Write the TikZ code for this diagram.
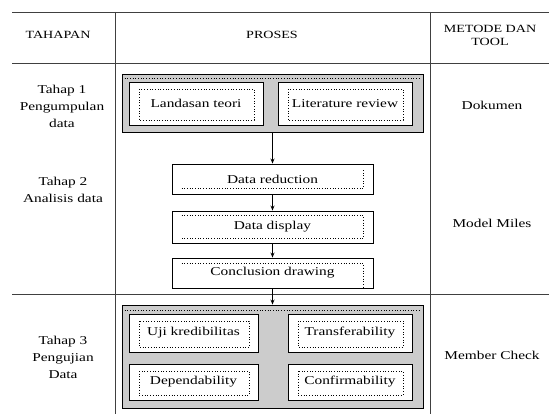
\documentclass[tikz,border=0pt]{standalone}
\usepackage{fontspec}
\setmainfont{Liberation Serif}[FakeStretch=1.28]
\usetikzlibrary{arrows.meta}

\begin{document}
\begin{tikzpicture}[x=1pt,y=-1pt,
  rule/.style={line width=0.9pt,draw=black!75},
  headtext/.style={align=center,font=\fontsize{11}{13}\selectfont},
  cell/.style={align=center,font=\fontsize{12}{17}\selectfont},
  greybox/.style={draw,line width=0.9pt,fill=black!20,minimum width=301pt},
  itembox/.style={draw,line width=0.9pt,fill=white,font=\fontsize{12}{14}\selectfont,
    path picture={\draw[dotted,line width=0.7pt]
      ([shift={(10pt,-7pt)}]path picture bounding box.north west) rectangle
      ([shift={(-9pt,5pt)}]path picture bounding box.south east);}},
  stepbox/.style={draw,line width=0.9pt,fill=white,minimum width=201pt,font=\fontsize{12}{14}\selectfont},
  dots/.style={dotted,line width=0.7pt},
  flow/.style={-{Stealth[length=5pt,width=4pt]},line width=0.8pt}]
\useasboundingbox (0,0) rectangle (549,414);

% table
\draw[rule] (12,12) -- (549,12);
\draw[rule] (12,63) -- (549,63);
\draw[rule] (12,294) -- (549,294);
\draw[rule] (115,12) -- (115,414);
\draw[rule] (430,12) -- (430,414);

\node[headtext] (tahapan) at (58,35) {TAHAPAN};
\node[headtext] (proses) at (272,35) {PROSES};
\node[headtext] (metode) at (490,35) {METODE DAN\\TOOL};

\node[cell] (tahap1) at (62,106) {Tahap 1\\Pengumpulan\\data};
\node[cell] (tahap2) at (63,190) {Tahap 2\\Analisis data};
\node[cell] (tahap3) at (63,357) {Tahap 3\\Pengujian\\Data};
\node[cell] (dokumen) at (492,105) {Dokumen};
\node[cell] (miles) at (492,223) {Model Miles};
\node[cell] (member) at (492,355) {Member Check};

% tahap 1
\node[greybox,minimum height=58pt] (kumpul) at (272.5,103) {};
\draw[dots] ([xshift=3pt,yshift=-5pt]kumpul.north west) -- ([xshift=-3pt,yshift=-5pt]kumpul.north east);
\node[itembox,minimum width=134pt,minimum height=43pt] (landasan) at (196,103.5) {Landasan teori};
\node[itembox,minimum width=134pt,minimum height=43pt] (literatur) at (345,103.5) {Literature review};

% tahap 2
\node[stepbox,minimum height=30pt] (reduksi) at (272.5,179) {Data reduction};
\node[stepbox,minimum height=32pt] (display) at (272.5,227) {Data display};
\node[stepbox,minimum height=30pt] (conclusion) at (272.5,273) {Conclusion drawing};
\draw[dots] ([xshift=10pt,yshift=6pt]reduksi.south west) -| ([xshift=-10pt,yshift=-6pt]reduksi.north east);
\draw[dots] ([xshift=10pt,yshift=-5pt]display.north west) -| ([xshift=-10pt,yshift=5pt]display.south east)
  -- ([xshift=10pt,yshift=5pt]display.south west);
\draw[dots] ([xshift=10pt,yshift=-6pt]conclusion.north west) -| ([xshift=-10pt]conclusion.south east);

% tahap 3
\node[greybox,minimum height=103pt] (uji) at (272.5,356.5) {};
\draw[dots] ([xshift=3pt,yshift=-6pt]uji.north west) -- ([xshift=-3pt,yshift=-6pt]uji.north east);
\node[itembox,minimum width=129pt,minimum height=38pt] (kredibilitas) at (193.5,333) {Uji kredibilitas};
\node[itembox,minimum width=124pt,minimum height=38pt] (transfer) at (350,333) {Transferability};
\node[itembox,minimum width=129pt,minimum height=36pt] (depend) at (193.5,382) {Dependability};
\node[itembox,minimum width=124pt,minimum height=36pt] (konfirm) at (350,382) {Confirmability};

\draw[flow] (kumpul.south) -- (reduksi.north);
\draw[flow] (reduksi.south) -- (display.north);
\draw[flow] (display.south) -- (conclusion.north);
\draw[flow] (conclusion.south) -- (uji.north);
\end{tikzpicture}
\end{document}
